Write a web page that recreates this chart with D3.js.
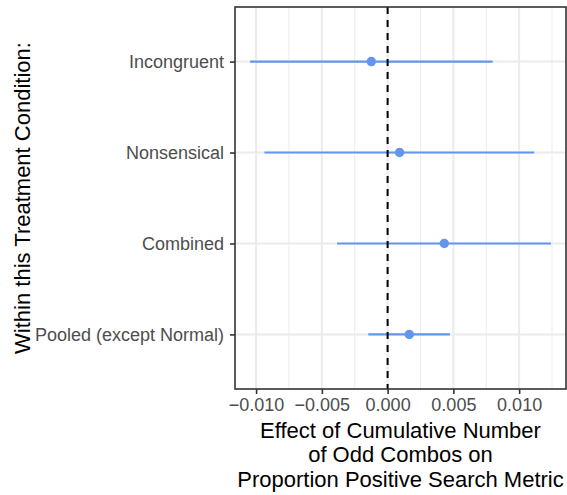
<!DOCTYPE html>
<html>
<head>
<meta charset="utf-8">
<script src="https://cdn.jsdelivr.net/npm/d3@7"></script>
<style>
  html, body { margin: 0; padding: 0; background: #fff; }
  svg { display: block; font-family: "Liberation Sans", Arial, Helvetica, sans-serif; }
</style>
</head>
<body>
<svg id="chart" width="567" height="495"></svg>
<script>
// ---- data ----
const categories = ["Incongruent", "Nonsensical", "Combined", "Pooled (except Normal)"];
const estimates  = [-0.00124, 0.00091, 0.00431, 0.00165];
const lowerCI    = [-0.01046, -0.00937, -0.00385, -0.00147];
const upperCI    = [0.00798, 0.01115, 0.01242, 0.00474];
const xTickValues = [-0.010, -0.005, 0.000, 0.005, 0.010];
const xTickLabels = ["\u22120.010", "\u22120.005", "0.000", "0.005", "0.010"];
const xMinorValues = [-0.0075, -0.0025, 0.0025, 0.0075, 0.0125];
const yTitle = "Within this Treatment Condition:";
const xTitleLines = ["Effect of Cumulative Number", "of Odd Combos on", "Proportion Positive Search Metric"];

const rows = categories.map((c, i) => ({ cat: c, est: estimates[i], lo: lowerCI[i], hi: upperCI[i] }));

// ---- layout ----
const panel = { left: 235, right: 566, top: 7, bottom: 389 };
const svg = d3.select("#chart");

const dataMin = d3.min(lowerCI), dataMax = d3.max(upperCI);
const pad = (dataMax - dataMin) * 0.05;
const x = d3.scaleLinear().domain([dataMin - pad, dataMax + pad]).range([panel.left, panel.right]);
const y = d3.scalePoint().domain(categories).range([panel.top, panel.bottom]).padding(0.6);

const grid = svg.append("g");
// minor vertical grid
grid.selectAll("line.minor").data(xMinorValues.filter(v => v >= x.domain()[0] && v <= x.domain()[1]))
  .join("line").attr("class", "minor")
  .attr("x1", d => x(d)).attr("x2", d => x(d))
  .attr("y1", panel.top).attr("y2", panel.bottom)
  .attr("stroke", "#EBEBEB").attr("stroke-width", 1);
// major vertical grid
grid.selectAll("line.majx").data(xTickValues)
  .join("line").attr("class", "majx")
  .attr("x1", d => x(d)).attr("x2", d => x(d))
  .attr("y1", panel.top).attr("y2", panel.bottom)
  .attr("stroke", "#EBEBEB").attr("stroke-width", 2);
// major horizontal grid
grid.selectAll("line.majy").data(categories)
  .join("line").attr("class", "majy")
  .attr("x1", panel.left).attr("x2", panel.right)
  .attr("y1", d => y(d)).attr("y2", d => y(d))
  .attr("stroke", "#EBEBEB").attr("stroke-width", 2);

// error bars
svg.append("g").selectAll("line").data(rows).join("line")
  .attr("x1", d => x(d.lo)).attr("x2", d => x(d.hi))
  .attr("y1", d => y(d.cat)).attr("y2", d => y(d.cat))
  .attr("stroke", "#6495ED").attr("stroke-width", 2.2);

// zero reference line
svg.append("line")
  .attr("x1", x(0)).attr("x2", x(0))
  .attr("y1", panel.top).attr("y2", panel.bottom)
  .attr("stroke", "#000").attr("stroke-width", 2)
  .attr("stroke-dasharray", "7,6");

// points
svg.append("g").selectAll("circle").data(rows).join("circle")
  .attr("cx", d => x(d.est)).attr("cy", d => y(d.cat))
  .attr("r", 4.7).attr("fill", "#6495ED");

// panel border
svg.append("rect")
  .attr("x", panel.left).attr("y", panel.top)
  .attr("width", panel.right - panel.left).attr("height", panel.bottom - panel.top)
  .attr("fill", "none").attr("stroke", "#333333").attr("stroke-width", 1.6);

// x axis
const xAxis = d3.axisBottom(x).tickValues(xTickValues)
  .tickFormat((d, i) => xTickLabels[i]).tickSize(5).tickPadding(4);
const gx = svg.append("g").attr("transform", `translate(0,${panel.bottom})`).call(xAxis);
gx.select(".domain").remove();
gx.selectAll(".tick line").attr("stroke", "#333333").attr("stroke-width", 1.6);
gx.selectAll(".tick text").attr("fill", "#4D4D4D").style("font-size", "18px")
  .style("font-family", "'Liberation Sans', Arial, sans-serif");

// y axis
const yAxis = d3.axisLeft(y).tickSize(5).tickPadding(6);
const gy = svg.append("g").attr("transform", `translate(${panel.left},0)`).call(yAxis);
gy.select(".domain").remove();
gy.selectAll(".tick line").attr("stroke", "#333333").attr("stroke-width", 1.6);
gy.selectAll(".tick text").attr("fill", "#4D4D4D").style("font-size", "18px")
  .style("font-family", "'Liberation Sans', Arial, sans-serif");

// y title
svg.append("text")
  .attr("transform", `translate(22,${(panel.top + panel.bottom) / 2}) rotate(-90)`)
  .attr("text-anchor", "middle").attr("dy", "0.35em")
  .attr("fill", "#000").style("font-size", "22px")
  .text(yTitle);

// x title
const cx = (panel.left + panel.right) / 2;
svg.append("g").selectAll("text").data(xTitleLines).join("text")
  .attr("x", cx).attr("y", (d, i) => 437.5 + i * 24.5)
  .attr("text-anchor", "middle").attr("fill", "#000").style("font-size", "22px")
  .text(d => d);
</script>
</body>
</html>
